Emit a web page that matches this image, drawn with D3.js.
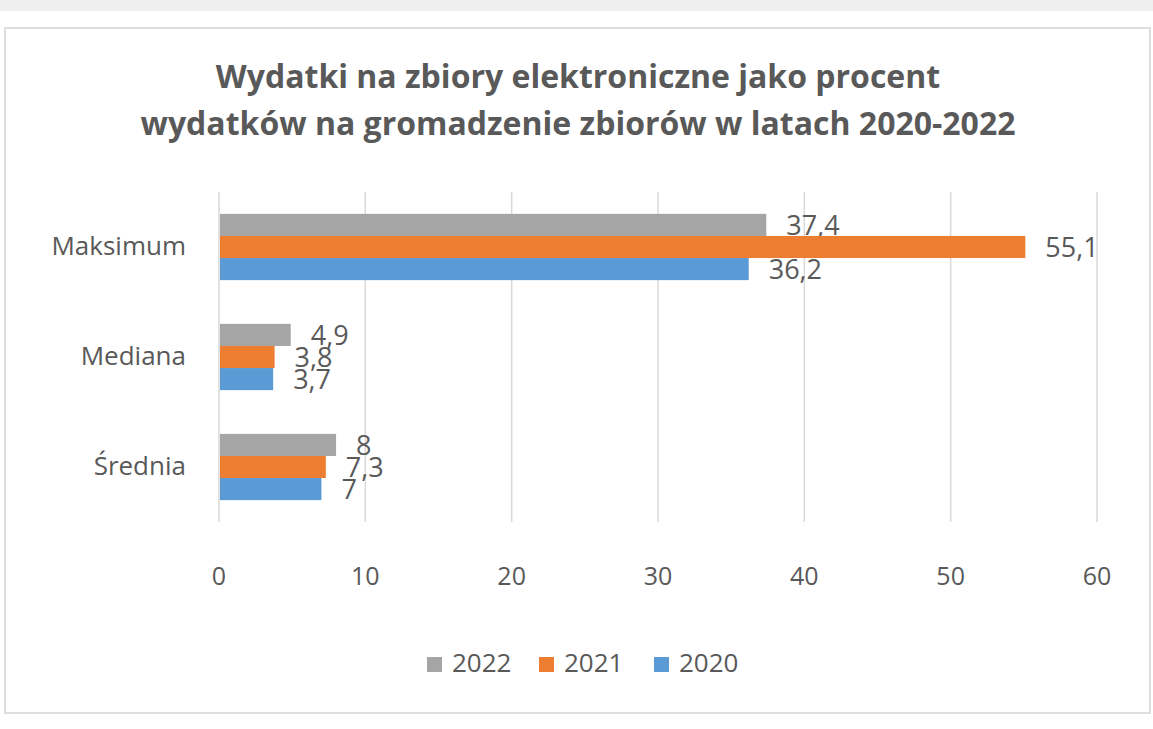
<!DOCTYPE html>
<html><head><meta charset="utf-8">
<script src="https://cdn.jsdelivr.net/npm/d3@7"></script>
<style>
html,body{margin:0;padding:0;background:#fff;}
svg{display:block;font-family:"Open Sans",sans-serif;}
</style></head>
<body>
<svg id="c" width="1153" height="729"></svg>
<script>
const categories = ["Maksimum", "Mediana", "Średnia"];
const seriesNames = ["2022", "2021", "2020"];
const values2022 = [37.4, 4.9, 8];
const values2021 = [55.1, 3.8, 7.3];
const values2020 = [36.2, 3.7, 7];
const xTicks = [0, 10, 20, 30, 40, 50, 60];
const colors = ["#a5a5a5", "#ed7d31", "#5b9bd5"];
const titleLines = ["Wydatki na zbiory elektroniczne jako procent", "wydatków na gromadzenie zbiorów w latach 2020-2022"];

const series = [values2022, values2021, values2020];
const svg = d3.select("#c");
const textColor = "#595959";

svg.append("rect").attr("x",0).attr("y",0).attr("width",1153).attr("height",11).attr("fill","#efefef");
svg.append("rect").attr("x",5).attr("y",28).attr("width",1145).attr("height",685)
  .attr("fill","#fff").attr("stroke","#dedede").attr("stroke-width",2);

svg.append("g").selectAll("text").data(titleLines).join("text")
  .attr("x",578).attr("y",(d,i)=>88+i*47)
  .attr("text-anchor","middle").attr("font-size",32).attr("font-weight","bold")
  .attr("fill",textColor).text(d=>d);

const x = d3.scaleLinear().domain([0,60]).range([219,1097]);
const y = d3.scaleBand().domain(categories).range([192,522]).paddingInner(0).paddingOuter(0);
const inner = d3.scaleBand().domain(seriesNames).range([0,y.bandwidth()]).paddingInner(0).paddingOuter(0.99);

svg.append("g").selectAll("line").data(xTicks).join("line")
  .attr("x1",d=>x(d)).attr("x2",d=>x(d)).attr("y1",192).attr("y2",522)
  .attr("stroke","#d9d9d9").attr("stroke-width",1.5);

svg.append("g").selectAll("text").data(xTicks).join("text")
  .attr("x",d=>x(d)).attr("y",585).attr("text-anchor","middle")
  .attr("font-size",25).attr("fill",textColor).text(d=>d);

svg.append("g").selectAll("text").data(categories).join("text")
  .attr("x",186).attr("y",d=>y(d)+y.bandwidth()/2+8).attr("text-anchor","end")
  .attr("font-size",26).attr("fill",textColor).text(d=>d);

const fmt = v => String(v).replace(".", ",");
seriesNames.forEach((s,si)=>{
  const g = svg.append("g");
  g.selectAll("rect").data(categories).join("rect")
    .attr("x",x(0)+1).attr("y",d=>y(d)+inner(s))
    .attr("width",(d,i)=>x(series[si][i])-x(0)-1).attr("height",inner.bandwidth())
    .attr("fill",colors[si]);
  g.selectAll("text").data(categories).join("text")
    .attr("x",(d,i)=>x(series[si][i])+20).attr("y",d=>y(d)+inner(s)+inner.bandwidth()/2+10)
    .attr("font-size",27).attr("fill",textColor).text((d,i)=>fmt(series[si][i]));
});

const legendX = [427, 539, 654];
const lg = svg.append("g");
seriesNames.forEach((s,i)=>{
  lg.append("rect").attr("x",legendX[i]).attr("y",657).attr("width",15).attr("height",15).attr("fill",colors[i]);
  lg.append("text").attr("x",legendX[i]+25).attr("y",672).attr("font-size",26).attr("fill",textColor).text(s);
});
</script>
</body></html>
